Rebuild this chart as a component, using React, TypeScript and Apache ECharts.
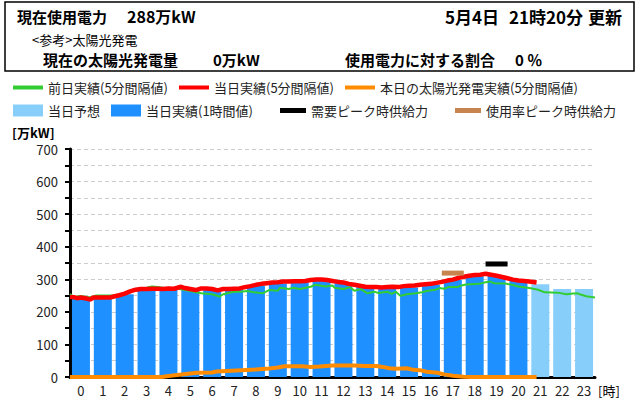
import React, { useEffect, useRef } from "react";
import * as echarts from "echarts";

const FONT = '"Noto Sans CJK JP", "Noto Sans", sans-serif';

const hours: string[] = Array.from({ length: 24 }, (_, i) => String(i));

// 当日実績(1時間値)
const actualHourly: (number | string)[] = [
  241, 242, 254, 267, 270, 270, 268, 268, 280, 287, 291, 295, 288, 278, 273, 275,
  283, 298, 309, 311, 297, "-", "-", "-",
];
// 当日予想
const forecastHourly: (number | string)[] = [
  "-", "-", "-", "-", "-", "-", "-", "-", "-", "-", "-", "-", "-", "-", "-", "-",
  "-", "-", "-", "-", "-", 285, 270, 270,
];

// 当日実績(5分間隔値) [hour, value]
const todayLine: [number, number][] = [
  [0.0, 246], [0.17, 245], [0.33, 242], [0.5, 244], [0.75, 241], [0.92, 238],
  [1.08, 244], [1.5, 244], [1.83, 244], [2.0, 247], [2.25, 251], [2.5, 256],
  [2.75, 263], [3.0, 268], [3.25, 270], [3.5, 270], [3.75, 271], [4.0, 271],
  [4.25, 270], [4.5, 272], [4.75, 271], [5.08, 277], [5.25, 273], [5.5, 270],
  [5.75, 267], [6.0, 272], [6.25, 272], [6.5, 270], [6.75, 266], [7.0, 270],
  [7.25, 270], [7.5, 271], [7.75, 272], [8.0, 276], [8.25, 279], [8.5, 283],
  [8.75, 286], [9.0, 288], [9.25, 290], [9.5, 291], [9.75, 293], [10.0, 293],
  [10.25, 294], [10.5, 294], [10.75, 295], [11.0, 298], [11.25, 299], [11.5, 299],
  [11.75, 298], [12.0, 295], [12.25, 292], [12.5, 290], [12.75, 286], [13.0, 283],
  [13.25, 280], [13.5, 277], [13.75, 276], [14.0, 276], [14.25, 275], [14.5, 276],
  [14.75, 277], [15.0, 276], [15.25, 279], [15.5, 280], [15.75, 281], [16.0, 283],
  [16.25, 285], [16.5, 286], [16.75, 289], [17.0, 292], [17.25, 296], [17.5, 299],
  [17.75, 304], [18.0, 308], [18.25, 311], [18.5, 313], [18.75, 314], [19.0, 317],
  [19.25, 314], [19.5, 311], [19.75, 307], [20.0, 303], [20.25, 299], [20.5, 296],
  [20.75, 295], [21.0, 293], [21.33, 290],
];

// 前日実績(5分間隔値)
const prevDayLine: [number, number][] = [
  [0.0, 255], [0.17, 246], [0.5, 249], [0.83, 245], [1.0, 245], [1.17, 250],
  [1.5, 250], [2.0, 250], [2.5, 257], [2.75, 263], [3.0, 270], [3.5, 274],
  [3.75, 278], [4.0, 276], [4.5, 272], [5.0, 270], [5.5, 264], [6.0, 257],
  [6.5, 254], [6.83, 247], [7.0, 254], [7.5, 262], [7.8, 262], [8.1, 264],
  [8.4, 260], [8.8, 257], [9.1, 267], [9.5, 265], [9.6, 274], [10.0, 270],
  [10.2, 274], [10.5, 270], [11.0, 277], [11.2, 283], [11.7, 278], [12.0, 281],
  [12.1, 274], [12.5, 270], [12.8, 276], [13.0, 265], [13.3, 270], [13.6, 257],
  [13.9, 262], [14.1, 258], [14.5, 262], [14.7, 255], [14.9, 262], [15.1, 249],
  [15.4, 254], [15.8, 257], [16.1, 260], [16.3, 264], [16.7, 268], [16.9, 273],
  [17.1, 271], [17.3, 276], [17.7, 276], [17.9, 281], [18.1, 284], [18.7, 286],
  [19.0, 291], [19.2, 293], [19.4, 288], [19.9, 287], [20.2, 283], [20.5, 278],
  [21.0, 273], [21.4, 268], [21.7, 260], [22.3, 259], [22.7, 254], [23.0, 256],
  [23.2, 257], [23.3, 254], [23.6, 248], [24.0, 244],
];

// 本日の太陽光発電実績(5分間隔値)
const solarLine: [number, number][] = [
  [0, 0], [4.2, 0], [4.5, 3], [5.0, 7], [5.4, 10], [5.8, 13], [6.5, 14],
  [6.7, 17], [7.6, 20], [8.5, 23], [9.1, 26], [9.5, 29], [9.8, 33], [10.6, 33],
  [11.0, 31], [11.4, 32], [12.0, 35], [13.0, 35], [13.5, 34], [14.0, 34],
  [14.3, 31], [14.6, 27], [14.9, 25], [15.4, 27], [15.7, 22], [16.0, 21],
  [16.3, 16], [16.8, 13], [17.1, 8], [17.5, 4], [18.0, 1], [18.3, 0], [21.33, 0],
];

// ピーク時供給力
const demandPeak: [string, number][] = [["19", 347]];
const usagePeak: [string, number][] = [["17", 319]];

const yTicks: number[] = [0, 100, 200, 300, 400, 500, 600, 700];

const S_PREV = "前日実績(5分間隔値)";
const S_TODAY = "当日実績(5分間隔値)";
const S_SOLAR = "本日の太陽光発電実績(5分間隔値)";
const S_FORE = "当日予想";
const S_ACT = "当日実績(1時間値)";
const S_DPEAK = "需要ピーク時供給力";
const S_UPEAK = "使用率ピーク時供給力";

const C_GREEN = "#32CD32";
const C_RED = "#FF0000";
const C_ORANGE = "#FF8C00";
const C_LIGHT = "#87CEFA";
const C_BLUE = "#1E90FF";
const C_BLACK = "#000000";
const C_BROWN = "#C8844E";

function txt(text: string, x: number, y: number, size: number, bold: boolean, align = "left") {
  return {
    type: "text",
    x,
    y,
    silent: true,
    style: {
      text,
      fill: "#000",
      font: `${bold ? "bold " : ""}${size}px ${FONT}`,
      textAlign: align,
      textVerticalAlign: "middle",
      align,
      verticalAlign: "middle",
    },
  };
}

export default function App() {
  const ref = useRef<HTMLDivElement>(null);
  useEffect(() => {
    if (!ref.current) return;
    const chart = echarts.init(ref.current, undefined, { renderer: "svg" });
    const legendText = { fontSize: 13, color: "#222", fontFamily: FONT };
    chart.setOption({
      animation: false,
      backgroundColor: "#fff",
      textStyle: { fontFamily: FONT },
      grid: { left: 70, right: 45, top: 149, bottom: 43, containLabel: false },
      graphic: [
        {
          type: "rect",
          shape: { x: 5, y: 2, width: 629, height: 69 },
          style: { fill: "none", stroke: "#000", lineWidth: 1.5 },
          silent: true,
        },
        txt("現在使用電力", 17, 16, 15, true),
        txt("288万kW", 127, 16, 16, true),
        txt("5月4日", 445, 16, 17, true),
        txt("21時20分", 583, 16, 17, true, "right"),
        txt("更新", 622, 16, 17, true, "right"),
        txt("<参考>太陽光発電", 32, 39, 13, false),
        txt("現在の太陽光発電量", 43, 59, 15, true),
        txt("0万kW", 213, 59, 15, true),
        txt("使用電力に対する割合", 345, 59, 15, true),
        txt("0 ％", 515, 59, 15, true),
        txt("[万kW]", 12, 132, 13, true),
        txt("[時]", 598, 390, 13, false),
      ],
      legend: [
        {
          left: 13,
          top: 81,
          padding: 0,
          itemWidth: 30,
          itemHeight: 4,
          itemGap: 11,
          textStyle: legendText,
          data: [
            { name: S_PREV, icon: "rect" },
            { name: S_TODAY, icon: "rect" },
            { name: S_SOLAR, icon: "rect" },
          ],
        },
        {
          left: 13,
          top: 104,
          padding: 0,
          itemWidth: 30,
          itemHeight: 12,
          itemGap: 11,
          textStyle: legendText,
          data: [
            { name: S_FORE, icon: "rect" },
            { name: S_ACT, icon: "rect" },
          ],
        },
        {
          left: 280,
          top: 104,
          padding: 0,
          itemWidth: 26,
          itemHeight: 5,
          itemGap: 27,
          textStyle: legendText,
          data: [
            { name: S_DPEAK, icon: "rect", itemStyle: { color: C_BLACK, opacity: 1 } },
            { name: S_UPEAK, icon: "rect", itemStyle: { color: C_BROWN, opacity: 1 } },
          ],
        },
      ],
      xAxis: [
        {
          type: "category",
          data: hours,
          boundaryGap: true,
          axisLine: { show: true, lineStyle: { color: "#000", width: 3 } },
          axisTick: { show: false },
          axisLabel: { fontSize: 13, color: "#222", margin: 7, interval: 0 },
          splitLine: { show: false },
        },
        {
          type: "value",
          min: 0,
          max: 24,
          show: false,
        },
      ],
      yAxis: {
        type: "value",
        min: 0,
        max: 700,
        interval: 50,
        axisLine: { show: true, lineStyle: { color: "#000", width: 3 } },
        axisTick: { show: true, length: 5, lineStyle: { color: "#000", width: 2 } },
        axisLabel: {
          fontSize: 13,
          color: "#222",
          margin: 12,
          formatter: (v: number) => (yTicks.includes(v) ? String(v) : ""),
        },
        splitLine: { show: true, lineStyle: { color: "#cccccc", type: [4, 3], width: 1 } },
      },
      series: [
        {
          name: S_ACT,
          type: "bar",
          data: actualHourly,
          barWidth: 18,
          barGap: "-100%",
          itemStyle: { color: C_BLUE },
          z: 2,
        },
        {
          name: S_FORE,
          type: "bar",
          data: forecastHourly,
          barWidth: 18,
          barGap: "-100%",
          itemStyle: { color: C_LIGHT },
          z: 2,
        },
        {
          name: S_PREV,
          type: "line",
          xAxisIndex: 1,
          data: prevDayLine,
          symbol: "none",
          showSymbol: false,
          color: C_GREEN,
          lineStyle: { color: C_GREEN, width: 2 },
          z: 3,
        },
        {
          name: S_TODAY,
          type: "line",
          xAxisIndex: 1,
          data: todayLine,
          symbol: "none",
          showSymbol: false,
          color: C_RED,
          lineStyle: { color: C_RED, width: 4.5 },
          z: 4,
        },
        {
          name: S_SOLAR,
          type: "line",
          xAxisIndex: 1,
          data: solarLine,
          symbol: "none",
          showSymbol: false,
          color: C_ORANGE,
          lineStyle: { color: C_ORANGE, width: 4 },
          z: 5,
        },
        {
          name: S_DPEAK,
          type: "scatter",
          data: demandPeak,
          symbol: "rect",
          symbolSize: [22, 5],
          color: C_BLACK,
          itemStyle: { color: C_BLACK, opacity: 1 },
          z: 6,
        },
        {
          name: S_UPEAK,
          type: "scatter",
          data: usagePeak,
          symbol: "rect",
          symbolSize: [22, 5],
          color: C_BROWN,
          itemStyle: { color: C_BROWN, opacity: 1 },
          z: 6,
        },
      ],
    });
    return () => chart.dispose();
  }, []);
  return (
    <div
      ref={ref}
      style={{ position: "fixed", left: 0, top: 0, width: 640, height: 420, background: "#fff" }}
    />
  );
}
